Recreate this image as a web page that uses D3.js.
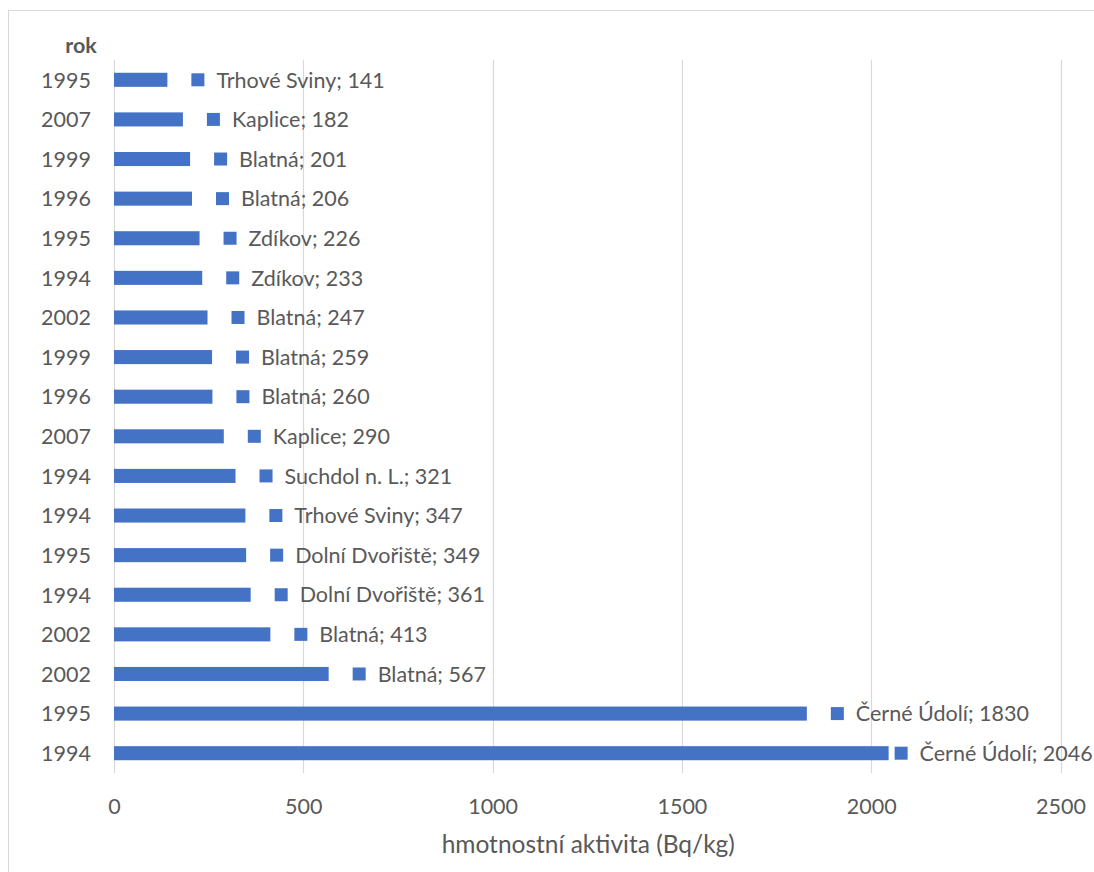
<!DOCTYPE html>
<html>
<head>
<meta charset="utf-8">
<script src="https://cdn.jsdelivr.net/npm/d3@7"></script>
<style>
  html, body { margin: 0; padding: 0; background: #fff; }
  svg { display: block; }
  text { font-family: Lato, "Open Sans", sans-serif; fill: #595959; }
</style>
</head>
<body>
<svg id="chart" width="1094" height="872"></svg>
<script>
// Sampling years (row labels), top to bottom
const years = ["1995", "2007", "1999", "1996", "1995", "1994", "2002", "1999", "1996",
               "2007", "1994", "1994", "1995", "1994", "2002", "2002", "1995", "1994"];
// Locality of each sample
const places = ["Trhové Sviny", "Kaplice", "Blatná", "Blatná", "Zdíkov", "Zdíkov", "Blatná",
                "Blatná", "Blatná", "Kaplice", "Suchdol n. L.", "Trhové Sviny", "Dolní Dvořiště",
                "Dolní Dvořiště", "Blatná", "Blatná", "Černé Údolí", "Černé Údolí"];
// Mass activity (Bq/kg)
const values = [141, 182, 201, 206, 226, 233, 247, 259, 260, 290, 321, 347, 349, 361, 413, 567, 1830, 2046];
// X axis ticks
const xTicks = [0, 500, 1000, 1500, 2000, 2500];

const rows = years.map((y, i) => ({ i, year: y, place: places[i], value: values[i] }));

const svg = d3.select("#chart");
const W = 1094, H = 872;
const plot = { left: 114, right: 1060.5, top: 60, bottom: 773 };
const barColor = "#4472C4";
const gridColor = "#D9D9D9";
const fontSize = 21.5;

// Chart frame
svg.append("rect")
  .attr("x", 8.5).attr("y", 10.5)
  .attr("width", W + 20).attr("height", H + 20)
  .attr("fill", "none").attr("stroke", gridColor).attr("stroke-width", 1);

const x = d3.scaleLinear().domain([0, 2500]).range([plot.left, plot.right]);
const y = d3.scaleBand().domain(rows.map(d => d.i)).range([plot.top, plot.bottom]).padding(0);
const barH = y.bandwidth() * 0.355;

// Vertical gridlines
svg.append("g")
  .selectAll("line")
  .data(xTicks)
  .join("line")
  .attr("x1", d => Math.round(x(d)) + 0.5)
  .attr("x2", d => Math.round(x(d)) + 0.5)
  .attr("y1", plot.top)
  .attr("y2", plot.bottom)
  .attr("stroke", gridColor)
  .attr("stroke-width", 1.2);

// X axis tick labels
const xAxis = d3.axisBottom(x).tickValues(xTicks).tickSize(0).tickPadding(0).tickFormat(d3.format("d"));
const gx = svg.append("g").attr("transform", `translate(0, ${plot.bottom + 33})`).call(xAxis);
gx.select(".domain").remove();
gx.selectAll("text")
  .attr("font-size", fontSize)
  .attr("font-family", "Lato, 'Open Sans', sans-serif")
  .attr("fill", "#595959")
  .attr("dy", "0.36em");

// Y axis (year labels)
const yAxis = d3.axisLeft(y).tickSize(0).tickPadding(0).tickFormat(i => years[i]);
const gy = svg.append("g").attr("transform", `translate(${plot.left - 23}, 0)`).call(yAxis);
gy.select(".domain").remove();
gy.selectAll("text")
  .attr("font-size", fontSize)
  .attr("font-family", "Lato, 'Open Sans', sans-serif")
  .attr("fill", "#595959")
  .attr("dy", "0.36em");

// Bars
svg.append("g")
  .selectAll("rect")
  .data(rows)
  .join("rect")
  .attr("x", x(0))
  .attr("y", d => y(d.i) + y.bandwidth() / 2 - barH / 2)
  .attr("width", d => x(d.value) - x(0))
  .attr("height", barH)
  .attr("fill", barColor);

// Data labels with legend key
const keySize = 13;
const labelRight = 1100;
const labels = svg.append("g")
  .selectAll("g")
  .data(rows)
  .join("g");

labels.each(function (d) {
  const g = d3.select(this);
  const cy = y(d.i) + y.bandwidth() / 2;
  const t = g.append("text")
    .attr("font-size", fontSize)
    .attr("dy", "0.36em")
    .attr("y", cy)
    .text(`${d.place}; ${d.value}`);
  const tw = t.node().getComputedTextLength();
  let kx = x(d.value) + 24;
  const total = keySize + 12 + tw;
  // labels that would run past the chart edge are pulled in close to the bar
  if (kx + total > labelRight) kx = x(d.value) + 6;
  g.append("rect")
    .attr("x", kx).attr("y", cy - keySize / 2)
    .attr("width", keySize).attr("height", keySize)
    .attr("fill", barColor);
  t.attr("x", kx + keySize + 12);
});

// Axis titles
svg.append("text")
  .attr("x", 81).attr("y", 45)
  .attr("text-anchor", "middle")
  .attr("dy", "0.36em")
  .attr("font-size", fontSize)
  .attr("font-weight", "bold")
  .text("rok");

svg.append("text")
  .attr("x", (plot.left + plot.right) / 2 + 1)
  .attr("y", 844)
  .attr("text-anchor", "middle")
  .attr("dy", "0.36em")
  .attr("font-size", 24.5)
  .text("hmotnostní aktivita (Bq/kg)");
</script>
</body>
</html>
